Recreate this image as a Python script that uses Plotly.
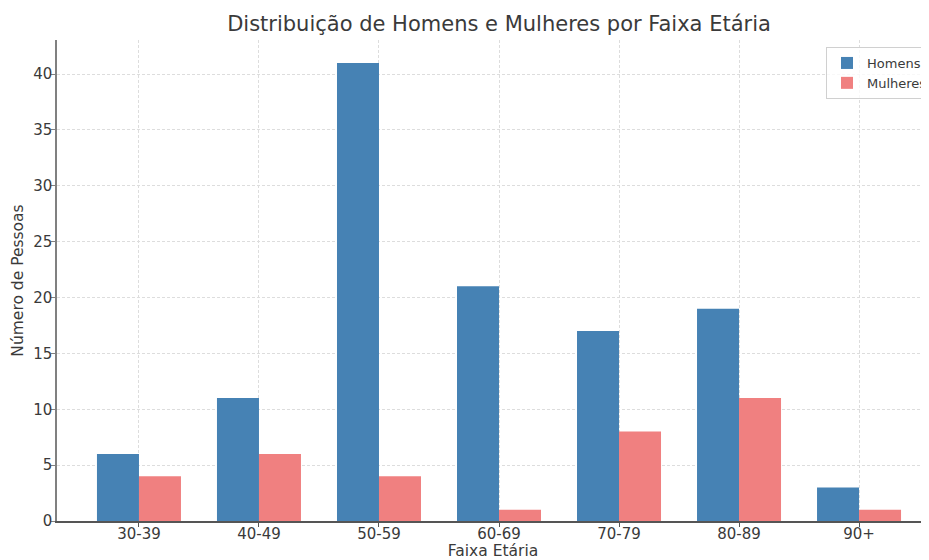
import plotly.graph_objects as go

categories = ["30-39", "40-49", "50-59", "60-69", "70-79", "80-89", "90+"]
homens = [6, 11, 41, 21, 17, 19, 3]
mulheres = [4, 6, 4, 1, 8, 11, 1]

fig = go.Figure()
fig.add_trace(go.Bar(x=categories, y=homens, name="Homens", marker_color="#4682B4",
                     marker_line_width=0))
fig.add_trace(go.Bar(x=categories, y=mulheres, name="Mulheres", marker_color="#F08080",
                     marker_line_width=0))

font_fam = "DejaVu Sans, sans-serif"
W, H = 921, 552  # page has 8px body margin
fig.update_layout(
    width=W, height=H,
    margin=dict(l=49, r=0, t=32, b=39, autoexpand=False),
    plot_bgcolor="white", paper_bgcolor="white",
    barmode="group", bargap=0.3, bargroupgap=0,
    font=dict(family=font_fam, color="#3a3a3a", size=14),
    title=dict(text="Distribuição de Homens e Mulheres por Faixa Etária",
               x=(49 + 933) / 2 / W, xanchor="center", y=1 - 16 / H, yanchor="middle",
               font=dict(size=21, color="#3a3a3a")),
    legend=dict(x=(818 - 49) / (W - 49), xanchor="left", y=1 - (39 - 32) / (H - 71), yanchor="top",
                bordercolor="#d0d0d0", borderwidth=1, bgcolor="rgba(255,255,255,0.8)",
                font=dict(size=13, color="#3a3a3a"), itemwidth=30, tracegroupgap=0),
    xaxis=dict(range=[-0.683, 6.583], showline=True, linecolor="#555555", linewidth=1.5,
               ticks="outside", ticklen=4, tickcolor="#555555", ticklabelstandoff=-6,
               showgrid=True, gridcolor="#dddddd", griddash="3px,2px", gridwidth=1,
               title=dict(text="Faixa Etária", standoff=0, font=dict(size=15.5)),
               tickfont=dict(size=15)),
    yaxis=dict(range=[0, 43.05], showline=True, linecolor="#808080", linewidth=1.5,
               ticks="outside", ticklen=4, tickcolor="#808080", dtick=5, ticklabelstandoff=-4,
               showgrid=True, gridcolor="#dddddd", griddash="3px,2px", gridwidth=1,
               zeroline=False,
               title=dict(text="Número de Pessoas", standoff=6, font=dict(size=15.5)),
               tickfont=dict(size=15)),
)

fig.write_html("out.html")
